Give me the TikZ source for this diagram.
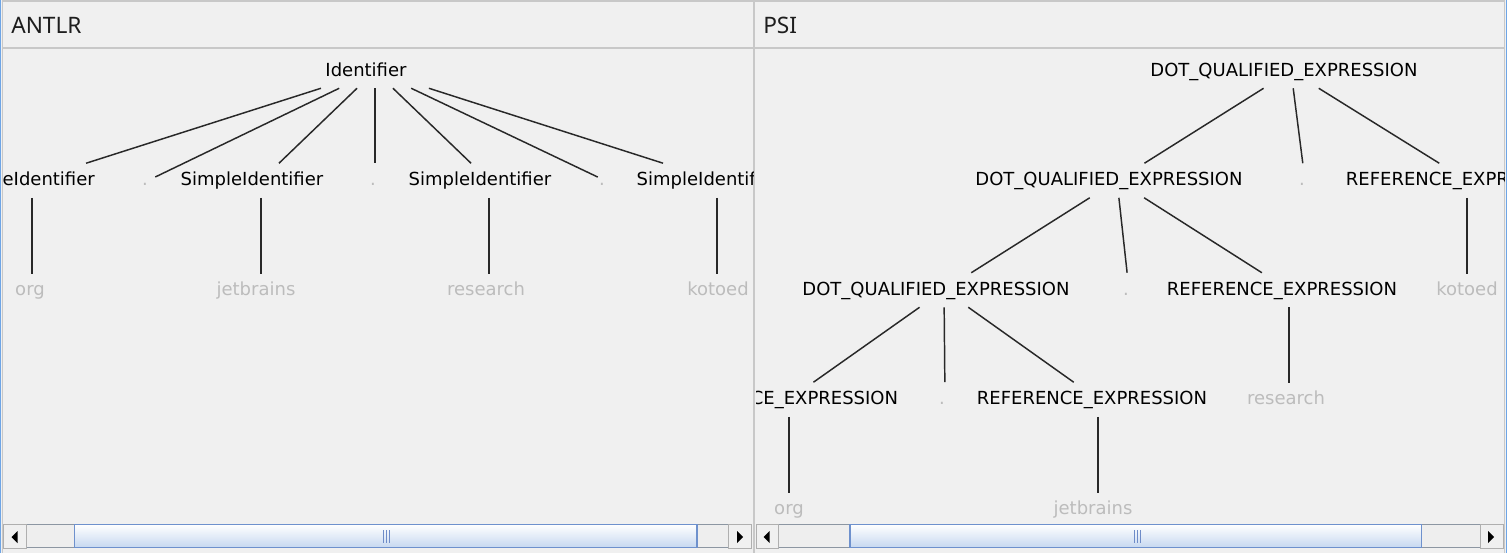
\documentclass[tikz,border=0pt]{standalone}
\usepackage{fontspec}
\setmainfont{DejaVu Sans}
\newfontfamily\hdrfont{Noto Sans}
\definecolor{bg}{RGB}{240,240,240}
\definecolor{edgec}{RGB}{40,40,40}
\definecolor{leafc}{RGB}{188,188,188}
\definecolor{framec}{RGB}{200,200,200}
\definecolor{bluec}{RGB}{110,165,230}
\definecolor{thumbb}{RGB}{110,145,205}
\definecolor{thumbf}{RGB}{198,216,240}
\definecolor{gripc}{RGB}{110,140,200}
\definecolor{trackc}{RGB}{140,150,162}
\definecolor{trackf}{RGB}{238,238,238}
\definecolor{btnc}{RGB}{175,175,175}
\definecolor{hdrc}{RGB}{30,30,30}
\newcommand\treefont{\fontsize{13.5pt}{16pt}\selectfont}
\newcommand\hdrsize{\hdrfont\fontsize{17pt}{20pt}\selectfont}
\begin{document}
\begin{tikzpicture}[x=0.75pt,y=-0.75pt,
  edge/.style={draw=edgec, line width=1.1pt},
  tbox/.style={rectangle, inner sep=0pt, minimum height=25.5pt},
  dbox/.style={rectangle, inner sep=0pt, minimum height=25.5pt, minimum width=10.5pt},
  lbox/.style={rectangle, inner sep=0pt, minimum height=24pt, minimum width=15pt},
  ttext/.style={inner sep=0pt, text height=9.75pt, text depth=2.25pt, font=\treefont, text=black},
  gtext/.style={ttext, text=leafc},
  hdr/.style={inner sep=0pt, anchor=base west, font=\hdrsize, text=hdrc},
  sbbtn/.style={fill=bg, draw=btnc, line width=0.75pt},
  sbtrack/.style={fill=trackf, draw=trackc, line width=0.75pt},
  sbthumb/.style={top color=white, bottom color=thumbf, draw=thumbb, line width=0.9pt},
  grip/.style={draw=gripc, line width=0.75pt},
  arrowtri/.style={fill=black, draw=none}
]
\def\ra{71}\def\rb{180.5}\def\rc{290}\def\rd{399.5}\def\re{509}
\useasboundingbox (0,0) rectangle (1507,553);
\fill[bg] (0,0) rectangle (1507,553);

% frame
\draw[framec, line width=1.5pt] (2,1) -- (1505,1);
\draw[framec, line width=1.5pt] (2,47.5) -- (1505,47.5);
\draw[framec, line width=1.2pt] (2.5,0) -- (2.5,553);
\draw[framec, line width=1.2pt] (1504.5,0) -- (1504.5,553);
\draw[framec, line width=1.6pt] (754,0) -- (754,553);
\draw[bluec, line width=0.75pt] (0.5,0) -- (0.5,553);
\draw[bluec, line width=0.75pt] (1506.5,0) -- (1506.5,553);

% headers
\node[hdr] (hA) at (11,33) {ANTLR};
\node[hdr] (hP) at (763,33) {PSI};

% ---------------- ANTLR tree ----------------
\begin{scope}
\clip (3,49) rectangle (753,522);
\node[tbox, minimum width=90pt] (id) at (375,\ra) {};
\node[ttext] (idT) at (366,\ra) {Identifier};

\node[tbox, minimum width=105pt] (s1) at (32,\rb) {};
\node[ttext] (s1T) at (23.5,\rb) {SimpleIdentifier};
\node[dbox] (d1) at (148,\rb) {};
\node[gtext] (d1T) at (145,\rb) {.};
\node[tbox, minimum width=105pt] (s2) at (261,\rb) {};
\node[ttext] (s2T) at (252,\rb) {SimpleIdentifier};
\node[dbox] (d2) at (375,\rb) {};
\node[gtext] (d2T) at (373,\rb) {.};
\node[tbox, minimum width=105pt] (s3) at (489,\rb) {};
\node[ttext] (s3T) at (480,\rb) {SimpleIdentifier};
\node[dbox] (d3) at (605,\rb) {};
\node[gtext] (d3T) at (602,\rb) {.};
\node[tbox, minimum width=105pt] (s4) at (717,\rb) {};
\node[ttext] (s4T) at (708,\rb) {SimpleIdentifier};

\node[lbox] (l1) at (32,\rc) {};
\node[gtext] (l1T) at (30,\rc) {org};
\node[lbox] (l2) at (261,\rc) {};
\node[gtext] (l2T) at (256,\rc) {jetbrains};
\node[lbox] (l3) at (489,\rc) {};
\node[gtext] (l3T) at (486,\rc) {research};
\node[lbox] (l4) at (717,\rc) {};
\node[gtext] (l4T) at (718,\rc) {kotoed};

\foreach \c in {s1,d1,s2,d2,s3,d3,s4} \draw[edge] (id) -- (\c);
\draw[edge] (s1) -- (l1);
\draw[edge] (s2) -- (l2);
\draw[edge] (s3) -- (l3);
\draw[edge] (s4) -- (l4);
\end{scope}

% ---------------- PSI tree ----------------
\begin{scope}
\clip (756,49) rectangle (1504,522);
\node[tbox, minimum width=202.5pt] (p0) at (1291,\ra) {};
\node[ttext] (p0T) at (1284,\ra) {DOT\_QUALIFIED\_EXPRESSION};

\node[tbox, minimum width=202.5pt] (p1) at (1117,\rb) {};
\node[ttext] (p1T) at (1109,\rb) {DOT\_QUALIFIED\_EXPRESSION};
\node[dbox] (p1d) at (1305,\rb) {};
\node[gtext] (p1dT) at (1302,\rb) {.};
\node[tbox, minimum width=170pt] (p2) at (1467,\rb) {};
\node[ttext] (p2T) at (1461,\rb) {REFERENCE\_EXPRESSION};

\node[tbox, minimum width=202.5pt] (q1) at (944,\rc) {};
\node[ttext] (q1T) at (936,\rc) {DOT\_QUALIFIED\_EXPRESSION};
\node[dbox] (q1d) at (1129,\rc) {};
\node[gtext] (q1dT) at (1126,\rc) {.};
\node[tbox, minimum width=170pt] (q2) at (1289,\rc) {};
\node[ttext] (q2T) at (1282,\rc) {REFERENCE\_EXPRESSION};
\node[lbox] (lk) at (1467,\rc) {};
\node[gtext] (lkT) at (1467,\rc) {kotoed};

\node[tbox, minimum width=170pt] (r1) at (789,\rd) {};
\node[ttext] (r1T) at (783,\rd) {REFERENCE\_EXPRESSION};
\node[dbox] (r1d) at (945,\rd) {};
\node[gtext] (r1dT) at (942,\rd) {.};
\node[tbox, minimum width=170pt] (r2) at (1098,\rd) {};
\node[ttext] (r2T) at (1092,\rd) {REFERENCE\_EXPRESSION};
\node[lbox] (lr) at (1289,\rd) {};
\node[gtext] (lrT) at (1286,\rd) {research};

\node[lbox] (lo) at (789,\re) {};
\node[gtext] (loT) at (789,\re) {org};
\node[lbox] (lj) at (1098,\re) {};
\node[gtext] (ljT) at (1093,\re) {jetbrains};

\draw[edge] (p0) -- (p1);
\draw[edge] (p0) -- (p1d);
\draw[edge] (p0) -- (p2);
\draw[edge] (p1) -- (q1);
\draw[edge] (p1) -- (q1d);
\draw[edge] (p1) -- (q2);
\draw[edge] (p2) -- (lk);
\draw[edge] (q1) -- (r1);
\draw[edge] (q1) -- (r1d);
\draw[edge] (q1) -- (r2);
\draw[edge] (q2) -- (lr);
\draw[edge] (r1) -- (lo);
\draw[edge] (r2) -- (lj);
\end{scope}

% ---------------- scrollbars ----------------
% left
\draw[sbtrack] (26,524.5) rectangle (728,547.5);
\draw[sbthumb] (74.5,524.5) rectangle (697,547.5);
\foreach \gx in {383.5,386.5,389.5} \draw[grip] (\gx,530) -- (\gx,543);
\draw[sbbtn] (3.5,524.5) rectangle (26,548);
\fill[arrowtri] (11.5,537) -- (17.5,531) -- (17.5,543) -- cycle;
\draw[sbbtn] (728,524.5) rectangle (751,548);
\fill[arrowtri] (737,531) -- (743,537) -- (737,543) -- cycle;
% right
\draw[sbtrack] (778,524.5) rectangle (1480,547.5);
\draw[sbthumb] (850,524.5) rectangle (1421.5,547.5);
\foreach \gx in {1134,1137,1140} \draw[grip] (\gx,530) -- (\gx,543);
\draw[sbbtn] (756,524.5) rectangle (778,548);
\fill[arrowtri] (763.5,537) -- (769.5,531) -- (769.5,543) -- cycle;
\draw[sbbtn] (1480,524.5) rectangle (1503,548);
\fill[arrowtri] (1488,531) -- (1494,537) -- (1488,543) -- cycle;
\end{tikzpicture}
\end{document}
